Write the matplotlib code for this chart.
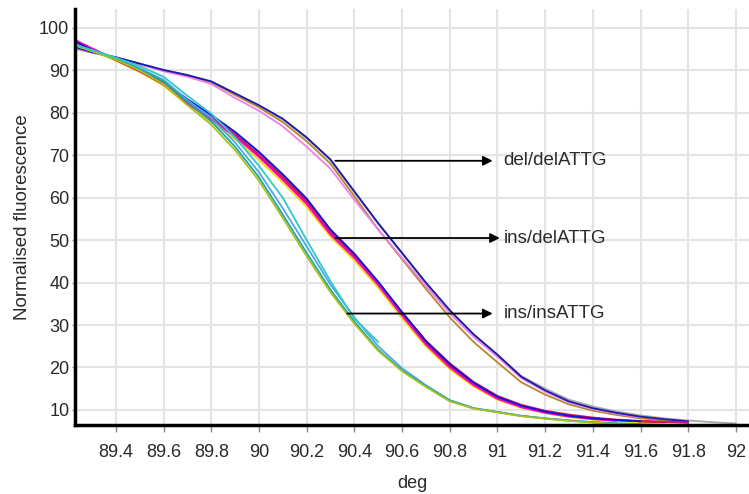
import numpy as np
import matplotlib
matplotlib.use("Agg")
import matplotlib.pyplot as plt

plt.rcParams['font.family'] = ['Liberation Sans', 'DejaVu Sans']

nan = np.nan
# temperature grid (deg) the curves were read at
temp = [89.2, 89.3, 89.4, 89.5, 89.6, 89.7, 89.8, 89.9, 90.0, 90.1,
        90.2, 90.3, 90.4, 90.5, 90.6, 90.7, 90.8, 90.9, 91.0, 91.1,
        91.2, 91.3, 91.4, 91.5, 91.6, 91.7, 91.8, 91.9, 92.0]

# del/delATTG group
a_blue = [96.0, 94.3, 93.1, 91.6, 90.1, 88.9, 87.4, 84.6, 81.8, 78.6, 74.2, 69.0, 61.5, 54.0, 47.0,
          40.0, 33.5, 27.8, 23.0, 17.8, 14.6, 12.0, 10.4, 9.3, 8.4, 7.8, 7.3, nan, nan]
a_brown = [95.5, 94.2, 93.0, 91.5, 90.0, 88.8, 87.2, 84.2, 81.3, 77.8, 73.3, 68.0, 60.3, 52.5, 45.5,
           38.5, 31.8, 26.0, 21.2, 16.5, 13.6, 11.3, 9.8, 8.8, 8.0, 7.5, 7.1, nan, nan]
a_pink = [95.8, 94.2, 93.0, 91.4, 89.8, 88.5, 86.8, 83.5, 80.5, 76.8, 72.0, 66.8, 59.5, 52.5, 45.8,
          39.2, 32.8, 27.2, 22.5, 17.5, 14.3, 11.8, 10.2, 9.1, 8.3, nan, nan, nan, nan]
a_gray = [95.5, 94.3, 93.1, 91.6, 90.1, 88.9, 87.4, 84.5, 81.6, 78.4, 74.0, 68.8, 61.2, 53.8, 46.8,
          39.8, 33.4, 27.8, 23.0, 18.0, 15.0, 12.4, 10.8, 9.6, 8.7, 8.0, 7.5, 7.1, 6.8]

# ins/delATTG group
b_blue = [97.6, 94.8, 92.6, 90.2, 87.3, 83.2, 79.5, 75.5, 70.8, 65.5, 59.8, 52.5, 46.8, 40.2, 33.0,
          26.2, 20.8, 16.4, 13.1, 11.0, 9.6, 8.6, 8.0, 7.6, 7.3, nan, nan, nan, nan]
b_red = [97.8, 95.0, 92.4, 89.8, 86.8, 82.3, 78.5, 74.6, 69.8, 64.6, 59.0, 51.8, 46.3, 39.8, 32.6,
         25.8, 20.4, 16.1, 12.9, 10.9, 9.5, 8.6, 8.0, 7.6, 7.3, 7.1, 7.0, nan, nan]
b_magenta = [98.0, 95.2, 92.6, 89.9, 86.7, 82.2, 78.4, 74.4, 69.6, 64.2, 58.5, 51.3, 45.8, 39.4, 32.2,
             25.4, 20.0, 15.8, 12.6, 10.6, 9.3, 8.4, 7.8, 7.4, nan, nan, nan, nan, nan]
b_purple = [97.5, 94.9, 92.5, 90.0, 87.0, 82.6, 78.9, 75.0, 70.2, 65.0, 59.4, 52.2, 46.6, 40.0, 32.9,
            26.1, 20.7, 16.3, 13.0, 10.9, 9.5, 8.6, 8.0, 7.6, 7.3, 7.1, nan, nan, nan]
b_yellow = [97.4, 94.8, 92.3, 89.6, 86.4, 81.8, 77.8, 73.8, 68.9, 63.6, 57.8, 50.8, 45.2, 38.8, 31.6,
            24.9, 19.6, 15.5, 12.4, 10.5, 9.2, 8.3, 7.7, 7.3, 7.0, 6.9, nan, nan, nan]
b_crimson = [97.7, 95.0, 92.5, 89.9, 86.9, 82.5, 78.8, 74.9, 70.1, 64.9, 59.2, 52.0, 46.5, 40.1, 33.0,
             26.3, 21.0, 16.6, 13.3, 11.2, 9.8, 8.9, 8.2, 7.7, 7.4, 7.2, 7.0, nan, nan]

# ins/insATTG group
c_ygreen = [96.5, 94.5, 92.5, 90.0, 86.8, 81.8, 77.2, 71.2, 64.0, 55.2, 46.2, 37.7, 30.3, 23.9, 19.1,
            15.4, 12.0, 10.3, 9.4, 8.5, 7.9, 7.4, 7.0, 6.7, 6.5, nan, nan, nan, nan]
c_teal = [96.3, 94.6, 92.7, 90.3, 87.4, 82.6, 78.0, 72.0, 64.8, 56.0, 47.0, 38.3, 30.8, 24.2, 19.3,
          15.6, 12.2, 10.4, 9.5, 8.6, 8.0, 7.5, 7.1, 6.8, 6.6, 6.4, nan, nan, nan]
c_lightblue = [96.4, 94.6, 92.8, 90.5, 87.8, 83.0, 78.8, 73.0, 66.0, 57.5, 48.5, 39.5, 31.8, 25.0, 19.8,
               15.8, 12.3, 10.4, 9.5, 8.6, 8.0, 7.5, 7.1, 6.8, 6.6, nan, nan, nan, nan]
c_cyan = [96.6, 94.8, 93.0, 91.0, 88.5, 84.0, 79.8, 74.2, 67.5, 60.0, 50.0, 40.3, 31.5, 26.0, nan,
          nan, nan, nan, nan, nan, nan, nan, nan, nan, nan, nan, nan, nan, nan]

curves = [
    (a_gray, '#a8a8a8'), (a_brown, '#b8862e'), (a_pink, '#f07ee8'), (a_blue, '#1a1ab0'),
    (b_yellow, '#e8e000'), (b_purple, '#8a1a9a'), (b_red, '#e01010'), (b_crimson, '#c8205a'),
    (b_magenta, '#ff00c8'), (b_blue, '#1010e0'),
    (c_lightblue, '#4aa8e8'), (c_teal, '#20a8a0'), (c_ygreen, '#a8c020'), (c_cyan, '#30c8c8'),
]

labels = ['del/delATTG', 'ins/delATTG', 'ins/insATTG']
label_y = [68.7, 50.5, 32.7]
arrow_start = [90.32, 90.32, 90.37]
arrow_end = [90.98, 91.01, 90.98]
label_x = 91.025

fig = plt.figure(figsize=(7.49, 4.94), dpi=100)
ax = fig.add_axes([0.1, 0.14, 0.9, 0.842])

for vals, col in curves:
    ax.plot(temp, vals, color=col, lw=1.3, solid_capstyle='round')

for lab, yy, x0, x1 in zip(labels, label_y, arrow_start, arrow_end):
    ax.annotate('', xy=(x1, yy), xytext=(x0, yy),
                arrowprops=dict(arrowstyle='-|>', color='black', lw=1.3, mutation_scale=14,
                                shrinkA=0, shrinkB=0))
    ax.text(label_x, yy, lab, fontsize=13.5, va='center', ha='left', color='#2a2a2a')

ax.set_xlim(89.228, 92.055)
ax.set_ylim(6.47, 104.5)
ax.set_xticks([89.4, 89.6, 89.8, 90, 90.2, 90.4, 90.6, 90.8, 91, 91.2, 91.4, 91.6, 91.8, 92])
ax.set_xticklabels(['89.4', '89.6', '89.8', '90', '90.2', '90.4', '90.6', '90.8', '91',
                    '91.2', '91.4', '91.6', '91.8', '92'])
ax.set_yticks([10, 20, 30, 40, 50, 60, 70, 80, 90, 100])
ax.grid(True, color='#e4e4e4', lw=1.5)
ax.set_axisbelow(True)
for s in ['top', 'right']:
    ax.spines[s].set_visible(False)
ax.spines['left'].set_linewidth(2.5)
ax.spines['bottom'].set_linewidth(2.5)
ax.tick_params(axis='x', length=5, width=1, color='#888888', labelsize=13, pad=9,
               labelcolor='#2a2a2a')
ax.tick_params(axis='y', length=2, width=1, color='#888888', labelsize=13, pad=2,
               labelcolor='#2a2a2a')
ax.set_xlabel('deg', fontsize=13, labelpad=10, color='#2a2a2a')
ax.set_ylabel('Normalised fluorescence', fontsize=13.5, labelpad=6, color='#2a2a2a')

fig.savefig('out.png', dpi=100)
